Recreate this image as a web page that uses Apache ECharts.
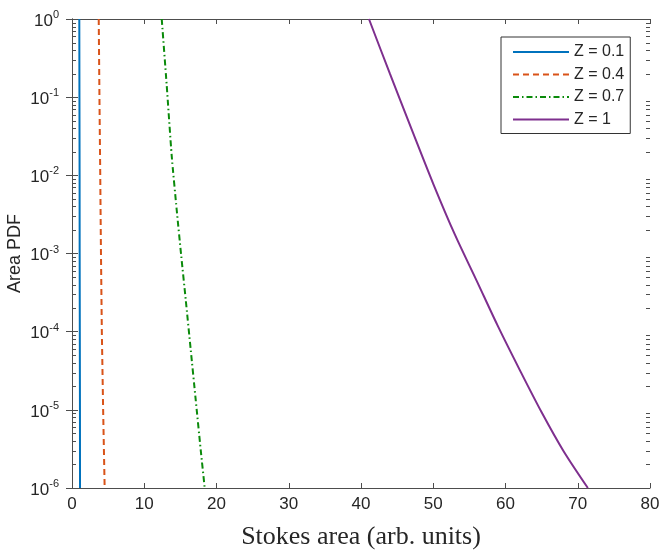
<!DOCTYPE html>
<html>
<head>
<meta charset="utf-8">
<title>Area PDF</title>
<script src="https://cdn.jsdelivr.net/npm/echarts@6/dist/echarts.min.js"></script>
<style>
    html, body { margin: 0; padding: 0; background: #fff; }
    #main { width: 659px; height: 550px; }
</style>
</head>
<body>
<div id="main"></div>
<script>
// 图例名称
var seriesNames = ['Z = 0.1', 'Z = 0.4', 'Z = 0.7', 'Z = 1'];

// Z = 0.1
var areaZ01 = [1.01, 1.03, 1.05, 1.06, 1.08, 1.10, 1.11];
var pdfZ01 = [1, 1e-1, 1e-2, 1e-3, 1e-4, 1e-5, 1e-6];

// Z = 0.4
var areaZ04 = [3.70, 3.80, 3.91, 4.01, 4.13, 4.31, 4.52];
var pdfZ04 = [1, 1e-1, 1e-2, 1e-3, 1e-4, 1e-5, 1e-6];

// Z = 0.7
var areaZ07 = [12.42, 13.11, 13.80, 14.49, 15.13, 15.74, 16.43, 17.12, 17.81, 18.37];
var pdfZ07 = [1, 0.141, 0.0178, 0.00363, 9.1e-4, 2.57e-4, 5.9e-5, 1.35e-5, 3.1e-6, 1.0e-6];

// Z = 1
var areaZ10 = [41.1, 44, 47, 50, 53, 56, 59, 62, 65, 68, 71.4];
var pdfZ10 = [1, 0.2, 0.039, 7.8e-3, 1.74e-3, 4.5e-4, 1.15e-4, 3.2e-5, 9.3e-6, 3.0e-6, 1.0e-6];

// 坐标轴范围
var xMin = 0, xMax = 80, xStep = 10;
var yMin = 1e-6, yMax = 1;

function pairs(xs, ys) {
    return xs.map(function (x, i) { return [x, ys[i]]; });
}

var axisColor = '#4d4d4d';
var textColor = '#262626';

(function () {
    var myChart = echarts.init(document.getElementById('main'));

    var option = {
        animation: false,
        grid: { left: 72, right: 9, top: 19, bottom: 62, outerBoundsMode: 'none' },
        legend: {
            orient: 'vertical',
            left: 501,
            top: 37,
            padding: [7, 6, 6, 11],
            itemWidth: 56,
            itemHeight: 14,
            itemGap: 6.5,
            borderColor: '#333',
            borderWidth: 1,
            backgroundColor: '#fff',
            itemStyle: { opacity: 0 },//去掉图例中的圆点
            textStyle: { fontSize: 16, color: textColor, fontFamily: 'Liberation Sans, Arial' },
            data: seriesNames
        },
        xAxis: [{
            type: 'value',
            min: xMin, max: xMax, interval: xStep,
            name: 'Stokes area (arb. units)',
            nameLocation: 'middle',
            nameGap: 36,
            nameTextStyle: { fontSize: 26, color: textColor, fontFamily: 'Liberation Serif, Times New Roman' },
            axisLine: { lineStyle: { color: axisColor, width: 1 } },
            axisTick: { inside: true, length: 5, lineStyle: { color: axisColor } },
            axisLabel: { fontSize: 17, color: textColor, margin: 8, fontFamily: 'Liberation Sans, Arial' },
            splitLine: { show: false }
        }, {
            type: 'value',
            position: 'top',
            min: xMin, max: xMax, interval: xStep,
            axisLine: { lineStyle: { color: axisColor, width: 1 } },
            axisTick: { inside: true, length: 5, lineStyle: { color: axisColor } },
            axisLabel: { show: false },
            splitLine: { show: false }
        }],
        yAxis: [{
            type: 'log',
            logBase: 10,
            min: yMin, max: yMax,
            splitNumber: 6,
            name: 'Area PDF',
            nameLocation: 'middle',
            nameGap: 48,
            nameMoveOverlap: false,
            nameTextStyle: { fontSize: 18, color: textColor, fontFamily: 'Liberation Sans, Arial' },
            axisLine: { show: true, lineStyle: { color: axisColor, width: 1 } },
            axisTick: { inside: true, length: 6, lineStyle: { color: axisColor } },
            axisLabel: {
                margin: 13,
                formatter: function (v) {
                    var e = Math.round(Math.log10(v));
                    return '{b|10}{s|' + e + '}';
                },
                rich: {
                    b: { fontSize: 17, color: textColor, fontFamily: 'Liberation Sans, Arial', padding: [4, 0, 0, 0] },
                    s: { fontSize: 11, color: textColor, fontFamily: 'Liberation Sans, Arial', padding: [0, 0, 8, 0] }
                }
            },
            splitLine: { show: false }
        }, {
            type: 'log',
            logBase: 10,
            position: 'right',
            min: yMin, max: yMax,
            splitNumber: 6,
            axisLine: { show: true, lineStyle: { color: axisColor, width: 1 } },
            axisTick: { inside: true, length: 6, lineStyle: { color: axisColor } },
            axisLabel: { show: false },
            splitLine: { show: false }
        }],
        series: [{
            name: seriesNames[0],
            type: 'line',
            symbol: 'none',
            data: pairs(areaZ01, pdfZ01),
            lineStyle: { color: '#0072BD', width: 2 },
            itemStyle: { color: '#0072BD' }
        }, {
            name: seriesNames[1],
            type: 'line',
            symbol: 'none',
            data: pairs(areaZ04, pdfZ04),
            lineStyle: { color: '#D95319', width: 2, type: [6, 4] },
            itemStyle: { color: '#D95319' }
        }, {
            name: seriesNames[2],
            type: 'line',
            symbol: 'none',
            smooth: 0.2,
            data: pairs(areaZ07, pdfZ07),
            lineStyle: { color: '#0a8a0a', width: 2, type: [6, 3, 1.5, 3] },
            itemStyle: { color: '#0a8a0a' }
        }, {
            name: seriesNames[3],
            type: 'line',
            symbol: 'none',
            smooth: 0.3,
            data: pairs(areaZ10, pdfZ10),
            lineStyle: { color: '#7E2F8E', width: 2 },
            itemStyle: { color: '#7E2F8E' }
        }]
    };

    myChart.setOption(option);

    // 对数轴次刻度（左右两侧）
    var xl = myChart.convertToPixel({ xAxisIndex: 0 }, xMin);
    var xr = myChart.convertToPixel({ xAxisIndex: 0 }, xMax);
    var minor = [];
    for (var k = -6; k < 0; k++) {
        for (var m = 2; m <= 9; m++) {
            var py = Math.round(myChart.convertToPixel({ yAxisIndex: 0 }, m * Math.pow(10, k))) + 0.5;
            minor.push({ type: 'line', shape: { x1: xl, y1: py, x2: xl + 4, y2: py }, style: { stroke: axisColor, lineWidth: 1 } });
            minor.push({ type: 'line', shape: { x1: xr, y1: py, x2: xr - 4, y2: py }, style: { stroke: axisColor, lineWidth: 1 } });
        }
    }
    myChart.setOption({ graphic: minor });
})();
</script>
</body>
</html>
